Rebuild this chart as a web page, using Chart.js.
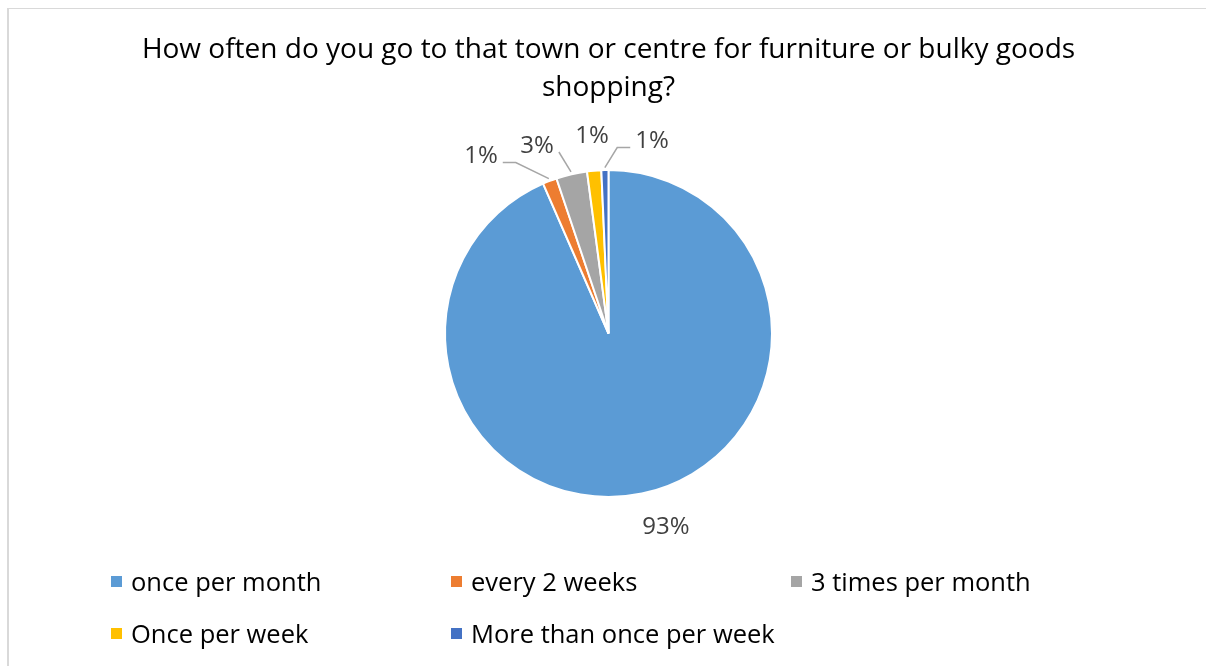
<!DOCTYPE html>
<html>
<head>
<meta charset="utf-8">
<script src="https://cdn.jsdelivr.net/npm/chart.js@4.4.1/dist/chart.umd.min.js"></script>
<style>
  html, body { margin: 0; padding: 0; background: #fff; }
  #wrap { position: relative; width: 1206px; height: 666px; overflow: hidden; }
  #frame { position: absolute; left: 7px; top: 8px; width: 1400px; height: 900px;
           border-top: 1px solid #d9d9d9; border-left: 2px solid #d9d9d9; }
  #pie { position: absolute; left: 0; top: 0; }
  #legend { position: absolute; left: 111px; top: 555px; width: 1040px;
            font-family: "Open Sans"; font-size: 25.5px; color: #000; }
  .item { display: inline-flex; align-items: center; width: 340px; height: 52px; white-space: nowrap; }
  .box { width: 11px; height: 11px; margin-right: 9px; flex: none; }
</style>
</head>
<body>
<div id="wrap">
  <div id="frame"></div>
  <canvas id="pie" width="1206" height="666"></canvas>
  <div id="legend"></div>
</div>
<script>
const categories = ['once per month', 'every 2 weeks', '3 times per month', 'Once per week', 'More than once per week'];
const shares = [93.45, 1.4, 3.05, 1.4, 0.7];
const sliceColors = ['#5B9BD5', '#ED7D31', '#A5A5A5', '#FFC000', '#4472C4'];
const titleLines = ['How often do you go to that town or centre for furniture or bulky goods', 'shopping?'];

// where each percentage sits: turn off the slice middle (deg) and distance past the rim (px)
const labelShift = [-4.9, -14.4, -7.6, 0.3, 13.9];
const labelGap = [36.5, 56.3, 39, 36.2, 35.3];
const leader = [false, true, true, false, true];

const pctLabels = {
  id: 'pctLabels',
  afterDatasetsDraw(chart) {
    const ctx = chart.ctx;
    const meta = chart.getDatasetMeta(0);
    const data = chart.data.datasets[0].data;
    const total = data.reduce((a, b) => a + b, 0);
    ctx.save();
    ctx.font = '24px "Open Sans"';
    ctx.textAlign = 'center';
    ctx.textBaseline = 'middle';
    meta.data.forEach((arc, i) => {
      const p = arc.getProps(['x', 'y', 'startAngle', 'endAngle', 'outerRadius'], true);
      const mid = (p.startAngle + p.endAngle) / 2;
      const a = mid + labelShift[i] * Math.PI / 180;
      const d = p.outerRadius + labelGap[i];
      const lx = p.x + Math.cos(a) * d;
      const ly = p.y + Math.sin(a) * d;
      const text = Math.round(data[i] / total * 100) + '%';
      if (leader[i]) {
        const w = ctx.measureText(text).width;
        const ex = p.x + Math.cos(mid) * (p.outerRadius + 2.5);
        const ey = p.y + Math.sin(mid) * (p.outerRadius + 2.5);
        const dir = ex > lx ? 1 : -1;
        let sx = lx + dir * (w / 2 + 5);
        const sy = ly + 8;
        ctx.beginPath();
        ctx.moveTo(sx, sy);
        if (Math.abs(ex - sx) > Math.abs(ey - sy)) {
          sx += dir * 13;
          ctx.lineTo(sx, sy);
        }
        ctx.lineTo(ex, ey);
        ctx.strokeStyle = '#a6a6a6';
        ctx.lineWidth = 1.5;
        ctx.stroke();
      }
      ctx.fillStyle = '#404040';
      ctx.fillText(text, lx, ly + 2);
    });
    ctx.restore();
  }
};

new Chart(document.getElementById('pie'), {
  type: 'pie',
  data: {
    labels: categories,
    datasets: [{
      data: shares,
      backgroundColor: sliceColors,
      borderColor: '#fff',
      borderWidth: 2,
      radius: 163.5,
      hoverOffset: 0
    }]
  },
  options: {
    responsive: false,
    animation: false,
    layout: { padding: { left: 11, right: 0, top: 0, bottom: 106 } },
    plugins: {
      legend: { display: false },
      tooltip: { enabled: false },
      title: {
        display: true,
        text: titleLines,
        color: '#000',
        font: { family: 'Open Sans', size: 28, weight: 'normal', lineHeight: 38 / 28 },
        padding: { top: 31, bottom: 0 }
      }
    }
  },
  plugins: [pctLabels]
});

// legend, three per row
const legend = document.getElementById('legend');
categories.forEach((name, i) => {
  const item = document.createElement('div');
  item.className = 'item';
  const box = document.createElement('span');
  box.className = 'box';
  box.style.background = sliceColors[i];
  item.appendChild(box);
  item.appendChild(document.createTextNode(name));
  legend.appendChild(item);
});
</script>
</body>
</html>
